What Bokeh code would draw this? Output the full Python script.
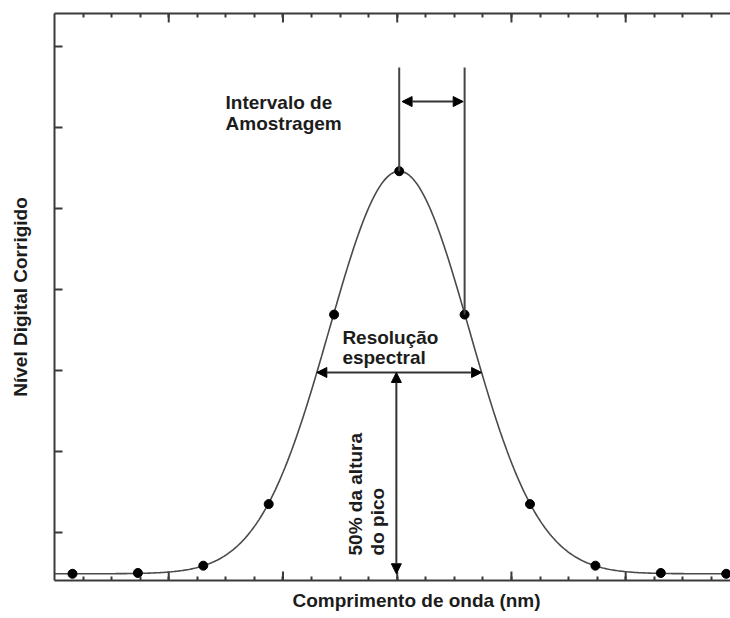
import numpy as np
from bokeh.plotting import figure
from bokeh.models import FixedTicker, LinearAxis, Range1d, Label, Arrow, NormalHead, Title
from bokeh.embed import file_html
from bokeh.resources import INLINE

# Detector samples across one spectral band (wavelength offset in nm, corrected DN)
sample_wavelength = [0.63, 2.92, 5.21, 7.50, 9.79, 12.07, 14.36, 16.65, 18.94, 21.23, 23.52]
sample_level = [4.9, 5.0, 5.9, 13.5, 36.9, 54.6, 36.9, 13.5, 5.9, 5.0, 4.9]

# Band response: centre, full width at half maximum, peak and floor
band_center = 12.07
band_fwhm = 5.77
band_peak = 54.6
band_floor = 4.9

x_major_ticks = [4, 8, 12, 16, 20]
x_minor_ticks = list(range(1, 24))
y_ticks = [10, 20, 30, 40, 50, 60, 70]

FONT = "Liberation Sans"
TEXT_COLOR = "#1c1c1c"
AXIS_COLOR = "#3a3a3a"

X0, X1 = 0, 23.67
Y0, Y1 = 4.07, 74.07

p = figure(width=730, height=618, x_range=Range1d(X0, X1), y_range=Range1d(Y0, Y1),
           output_backend="svg", toolbar_location=None, x_axis_type=None, y_axis_type=None,
           min_border_left=54, min_border_right=0, min_border_top=13, min_border_bottom=38)
p.outline_line_color = None
p.grid.visible = False


def frame_axis(ticks, tick_len, label=None):
    # Axis without tick labels: every tick mark is drawn as an unlabeled minor tick
    ax = LinearAxis(ticker=FixedTicker(ticks=[], minor_ticks=ticks))
    ax.axis_line_color = AXIS_COLOR
    ax.axis_line_width = 2
    ax.minor_tick_line_color = AXIS_COLOR
    ax.minor_tick_line_width = 2
    ax.minor_tick_in = tick_len
    ax.minor_tick_out = 0
    ax.major_tick_out = 0
    ax.major_label_standoff = 0
    if label:
        ax.axis_label = label
        ax.axis_label_text_font = FONT
        ax.axis_label_text_font_style = "bold"
        ax.axis_label_text_font_size = "19px"
        ax.axis_label_text_color = TEXT_COLOR
        ax.axis_label_standoff = 24
    return ax


p.add_layout(frame_axis(x_minor_ticks, 4), "below")
p.add_layout(frame_axis(x_minor_ticks, 4), "above")
p.add_layout(frame_axis(y_ticks, 8, "Nível Digital Corrigido"), "left")

p.add_layout(Title(text="Comprimento de onda (nm)", align="left", offset=238,
                   text_font=FONT, text_font_style="bold", text_font_size="19px",
                   text_color=TEXT_COLOR, standoff=14), "below")

# Longer marks at every fourth wavelength tick, top and bottom
px_per_unit_y = 567 / (Y1 - Y0)
long_tick = 9 / px_per_unit_y
p.segment(x0=x_major_ticks, x1=x_major_ticks, y0=[Y0] * len(x_major_ticks),
          y1=[Y0 + long_tick] * len(x_major_ticks), line_color=AXIS_COLOR, line_width=2)
p.segment(x0=x_major_ticks, x1=x_major_ticks, y0=[Y1] * len(x_major_ticks),
          y1=[Y1 - long_tick] * len(x_major_ticks), line_color=AXIS_COLOR, line_width=2)

# Gaussian response curve of the band
sigma = band_fwhm / (2 * np.sqrt(2 * np.log(2)))
xs = np.linspace(X0, X1, 500)
ys = band_floor + (band_peak - band_floor) * np.exp(-(xs - band_center) ** 2 / (2 * sigma ** 2))
p.line(xs, ys, line_color="#4a4a4a", line_width=1.6)

p.scatter(sample_wavelength, sample_level, size=9, color="black")

half_level = band_floor + (band_peak - band_floor) / 2

# Sampling interval: two guide lines and a double arrow
guide_top = 67.4
i0, i1 = 5, 6
p.segment(x0=[sample_wavelength[i0], sample_wavelength[i1]],
          y0=[sample_level[i0], sample_level[i1]],
          x1=[sample_wavelength[i0], sample_wavelength[i1]],
          y1=[guide_top, guide_top], line_color="#444444", line_width=2)


def head():
    return NormalHead(size=10, fill_color="black", line_color="black")


interval_y = 63.2
p.add_layout(Arrow(x_start=sample_wavelength[i0] + 0.1, x_end=sample_wavelength[i1] - 0.05,
                   y_start=interval_y, y_end=interval_y, start=head(), end=head(),
                   line_color="#333333", line_width=2))

# Spectral resolution (FWHM)
p.add_layout(Arrow(x_start=band_center - band_fwhm / 2, x_end=band_center + band_fwhm / 2,
                   y_start=half_level, y_end=half_level, start=head(), end=head(),
                   line_color="#333333", line_width=2))

# Half of the peak height
p.add_layout(Arrow(x_start=11.97, x_end=11.97, y_start=band_floor, y_end=half_level,
                   start=head(), end=head(), line_color="#333333", line_width=2))


def text(x, y, s, angle=0.0):
    p.add_layout(Label(x=x, y=y, text=s, angle=angle, text_align="left",
                       text_baseline="alphabetic", text_font=FONT, text_font_style="bold",
                       text_font_size="19px", text_color=TEXT_COLOR))


text(5.99, 63.1, "Intervalo de")
text(5.99, 60.5, "Amostragem")
text(10.08, 34.07, "Resolução")
text(10.08, 31.6, "espectral")
text(10.54, 7.16, "50% da altura", angle=np.pi / 2)
text(11.31, 7.16, "do pico", angle=np.pi / 2)

open("out.html", "w").write(file_html(p, INLINE))
